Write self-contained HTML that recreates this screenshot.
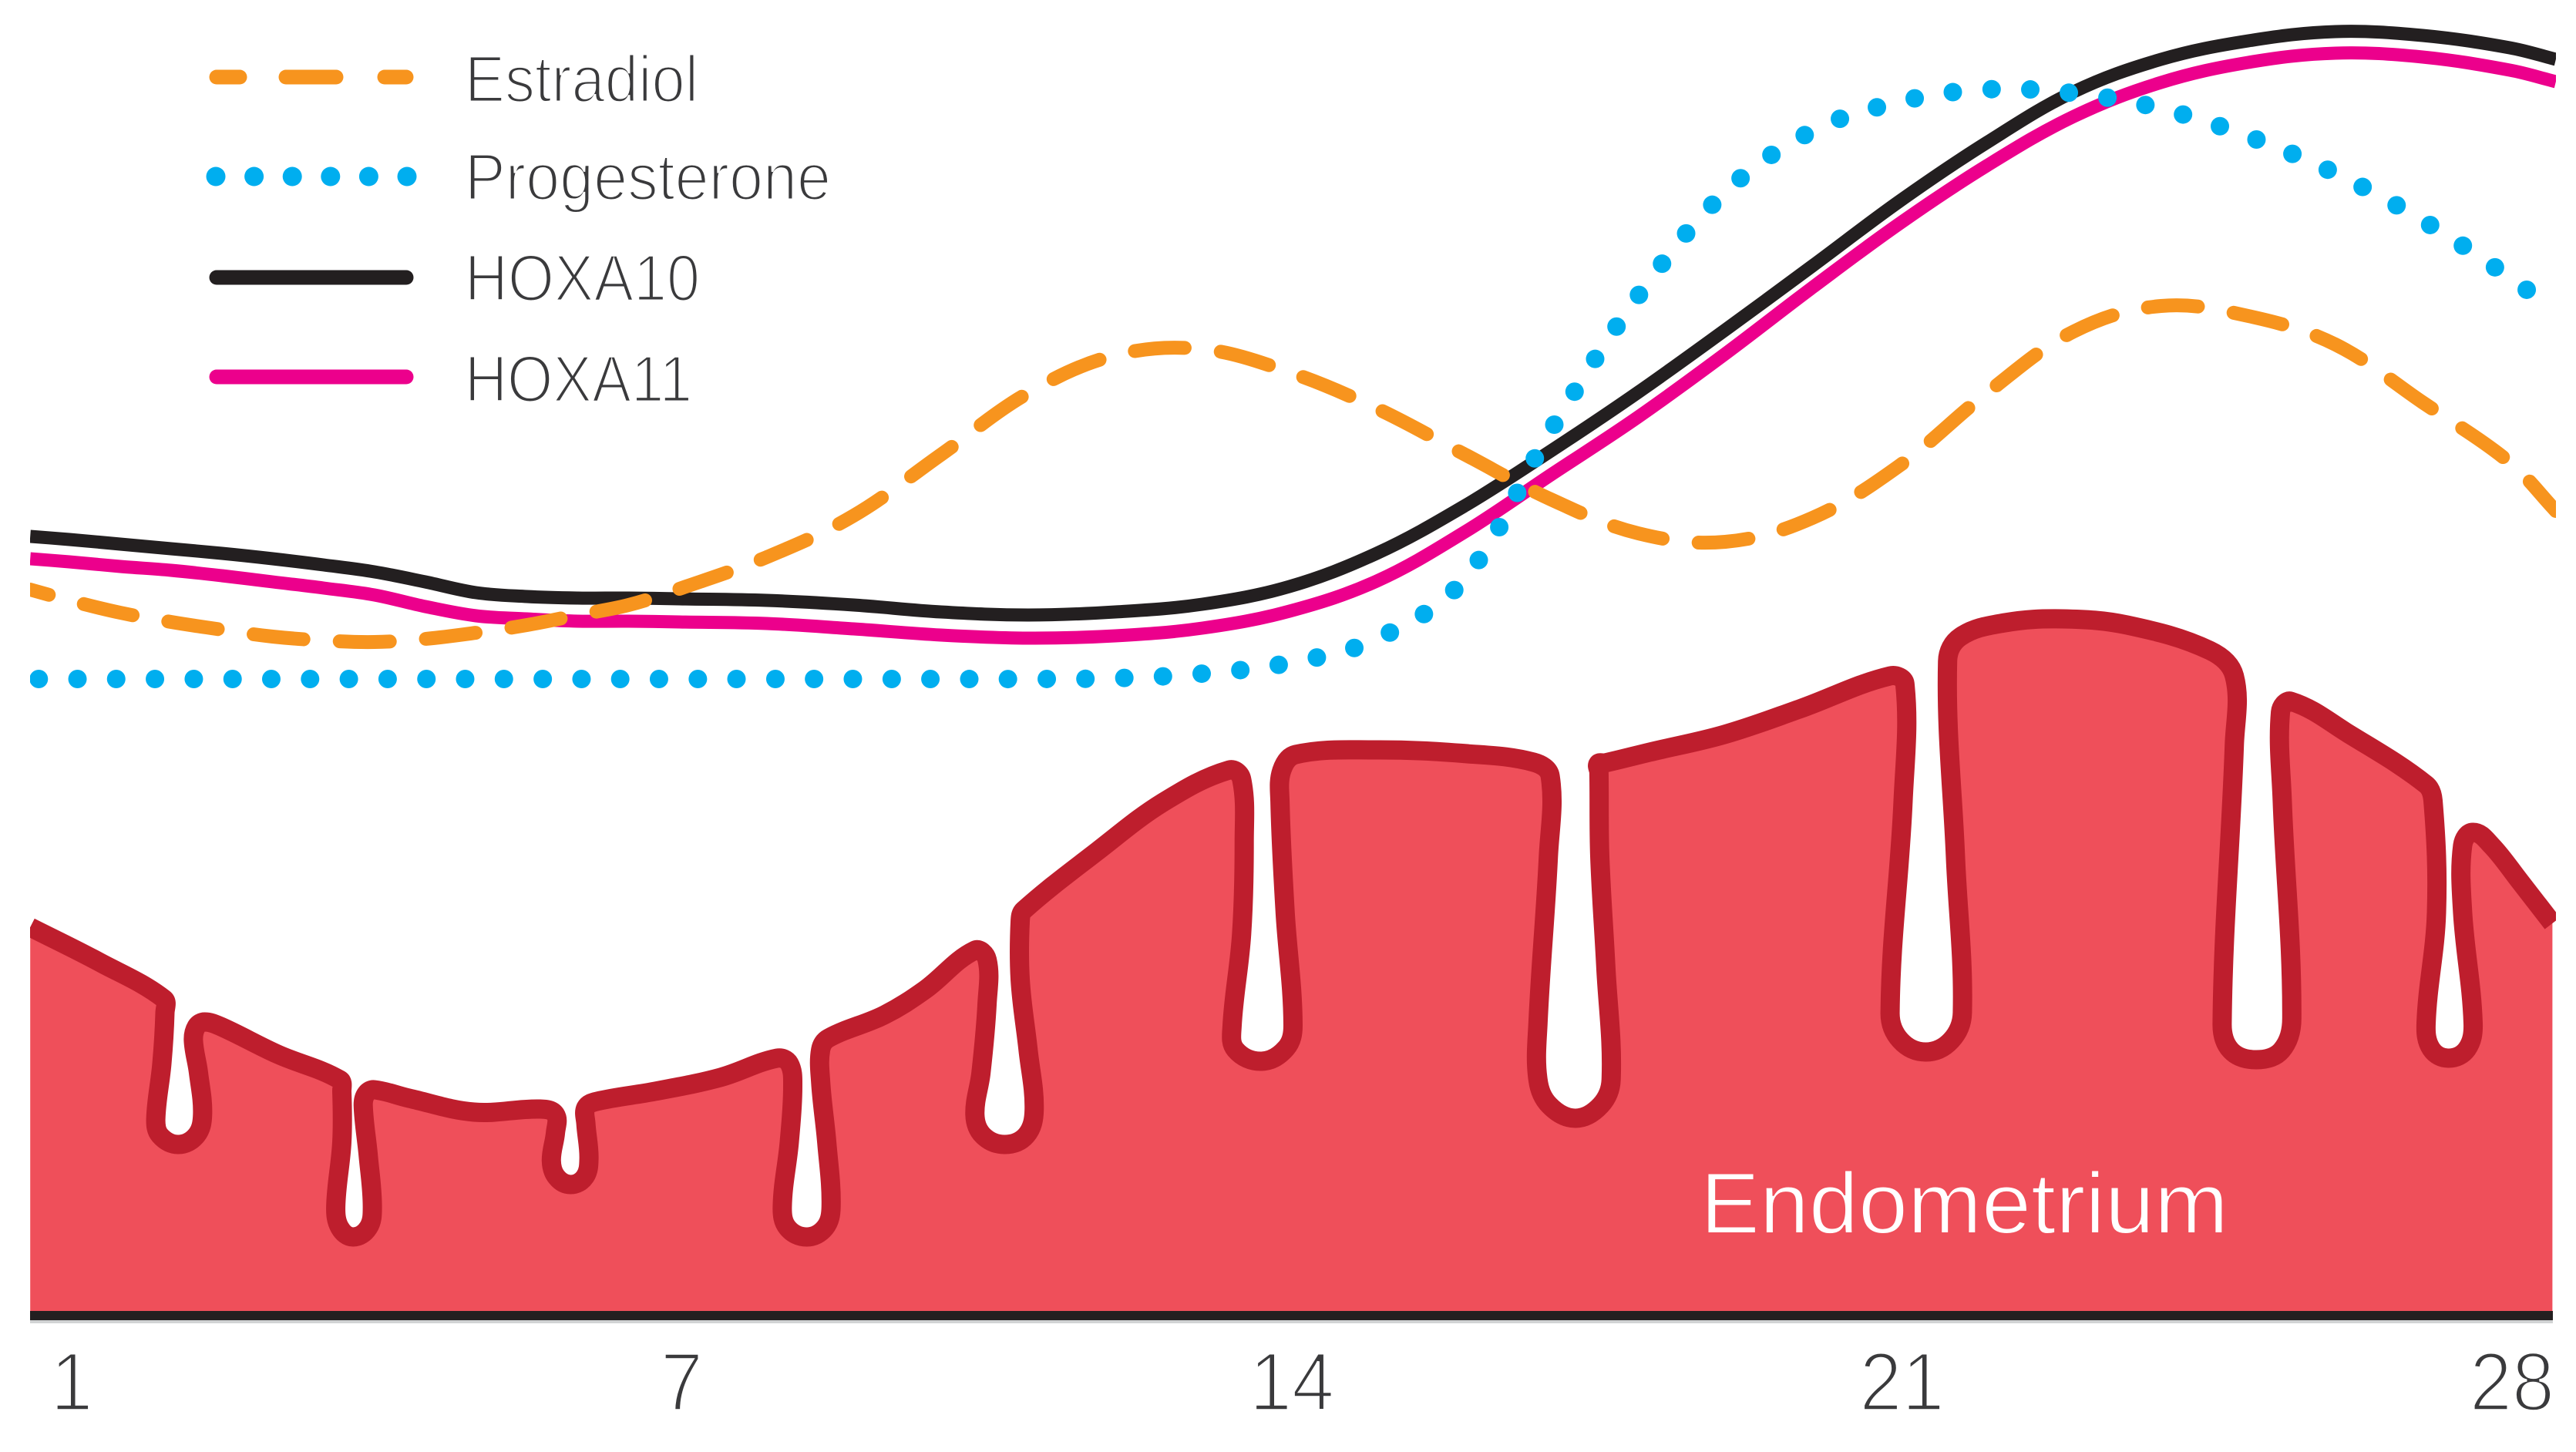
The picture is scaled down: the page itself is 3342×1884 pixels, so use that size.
<!DOCTYPE html>
<html lang="en">
<head>
<meta charset="utf-8">
<title>Menstrual cycle hormones, HOXA expression and endometrium</title>
<style>
  html, body { margin: 0; padding: 0; background: #ffffff; }
  svg { display: block; }
  text { font-family: "Liberation Sans", sans-serif; }
</style>
</head>
<body>
<svg id="chart" xmlns="http://www.w3.org/2000/svg" width="3342" height="1884" viewBox="0 0 3342 1884">
  <defs>
    <clipPath id="plot-clip"><rect x="39" y="0" width="3277" height="1701"></rect></clipPath>
    <clipPath id="dots-clip"><rect x="39" y="0" width="3258" height="1701"></rect></clipPath>
  </defs>
  <rect x="0" y="0" width="3342" height="1884" fill="#ffffff"></rect>
  <g id="endo-layer" clip-path="url(#plot-clip)"></g>
  <text x="2206" y="1600" font-size="112" fill="#ffffff" stroke="#ef4f5a" stroke-width="2" paint-order="fill stroke" textLength="685" lengthAdjust="spacingAndGlyphs">Endometrium</text>
  <g id="axis-layer"></g>
  <g id="line-layer"></g>
  <g>
    <g>
      <line x1="281" y1="100" x2="527" y2="100" stroke="#f7941e" stroke-width="19" stroke-linecap="round" stroke-dasharray="30 60 65 63 28"></line>
      <text x="603" y="132" font-size="85" fill="#3a3a3c" stroke="#ffffff" stroke-width="3" paint-order="fill stroke" textLength="303" lengthAdjust="spacingAndGlyphs">Estradiol</text>
    </g>
    <g>
      <line x1="280" y1="229" x2="530" y2="229" stroke="#00aeef" stroke-width="25" stroke-linecap="round" stroke-dasharray="0 49.6"></line>
      <text x="603" y="259" font-size="85" fill="#3a3a3c" stroke="#ffffff" stroke-width="3" paint-order="fill stroke" textLength="475" lengthAdjust="spacingAndGlyphs">Progesterone</text>
    </g>
    <g>
      <line x1="281" y1="360" x2="527" y2="360" stroke="#231f20" stroke-width="19" stroke-linecap="round"></line>
      <text x="603" y="390" font-size="85" fill="#3a3a3c" stroke="#ffffff" stroke-width="3" paint-order="fill stroke" textLength="305" lengthAdjust="spacingAndGlyphs">HOXA10</text>
    </g>
    <g>
      <line x1="281" y1="489" x2="527" y2="489" stroke="#ec008c" stroke-width="19" stroke-linecap="round"></line>
      <text x="603" y="521" font-size="85" fill="#3a3a3c" stroke="#ffffff" stroke-width="3" paint-order="fill stroke" textLength="295" lengthAdjust="spacingAndGlyphs">HOXA11</text>
    </g>
  </g>
</svg>
<script>
// ---- chart data (cycle day, relative level) ----
const tickDays = [1, 7, 14, 21, 28];
const days = [0.615, 1, 1.5, 2, 2.5, 3, 3.5, 4, 4.5, 5, 5.5, 6, 6.5, 7, 8, 9, 10, 11, 12, 13, 14, 15, 16, 17, 18, 19, 20, 21, 22, 23, 24, 25, 26, 27, 28, 28.53];
const hoxa10 = [101.1, 100.7, 100.1, 99.5, 98.9, 98.2, 97.4, 96.5, 95.2, 93.8, 93.3, 93.1, 93.1, 93.0, 92.8, 92.2, 91.3, 90.9, 91.3, 92.3, 94.6, 98.9, 105.0, 112.2, 119.8, 127.9, 136.2, 144.6, 152.2, 158.8, 163.0, 165.4, 166.6, 166.1, 164.5, 163.0];
const hoxa11 = [98.2, 97.8, 97.2, 96.7, 96.0, 95.2, 94.4, 93.5, 92.0, 90.8, 90.4, 90.1, 90.1, 90.0, 89.8, 89.1, 88.3, 87.9, 88.2, 89.2, 91.4, 95.3, 101.6, 109.1, 116.6, 124.8, 133.4, 141.7, 149.2, 155.6, 160.0, 162.6, 163.8, 163.3, 161.6, 160.1];
const estradiol = [94.2, 92.8, 91.2, 90.0, 89.0, 88.1, 87.6, 87.4, 87.8, 88.6, 89.6, 90.9, 92.2, 94.3, 98.4, 103.8, 111.7, 119.7, 124.6, 125.4, 122.4, 117.7, 111.8, 105.9, 101.5, 100.4, 103.5, 110.3, 119.7, 127.7, 131.0, 129.7, 126.0, 118.5, 110.7, 104.4];
const progesterone = [82.6, 82.6, 82.6, 82.6, 82.6, 82.6, 82.6, 82.6, 82.6, 82.6, 82.6, 82.6, 82.6, 82.6, 82.6, 82.6, 82.6, 82.6, 82.7, 83.3, 84.7, 87.8, 95.5, 114.9, 132.3, 145.8, 153.7, 157.5, 159.1, 158.6, 156.6, 153.0, 148.2, 142.1, 134.7, 130.2];
// Endometrial surface outline, including the gland crypts
const endoDays = [0.615, 1.29, 1.93, 1.94, 1.91, 1.85, 1.89, 2.07, 2.25, 2.31, 2.27, 2.22, 2.25, 2.33, 2.49, 3.05, 3.66, 3.68, 3.68, 3.62, 3.66, 3.79, 3.94, 3.98, 3.94, 3.89, 3.92, 4.00, 4.34, 4.98, 5.63, 5.78, 5.78, 5.74, 5.79, 5.93, 6.07, 6.11, 6.08, 6.08, 6.19, 6.76, 7.47, 8.12, 8.26, 8.30, 8.26, 8.18, 8.24, 8.46, 8.67, 8.74, 8.69, 8.62, 8.62, 8.71, 9.35, 9.82, 10.39, 10.53, 10.53, 10.46, 10.39, 10.48, 10.73, 10.98, 11.07, 11.00, 10.91, 10.91, 10.95, 11.80, 12.55, 13.31, 13.45, 13.48, 13.45, 13.34, 13.38, 13.68, 13.96, 14.04, 13.95, 13.89, 13.91, 14.07, 14.99, 16.04, 16.80, 16.99, 16.97, 16.85, 16.85, 16.98, 17.28, 17.57, 17.69, 17.63, 17.56, 17.55, 17.54, 17.62, 18.13, 18.99, 19.85, 20.89, 21.06, 21.04, 20.89, 21.01, 21.30, 21.59, 21.72, 21.64, 21.55, 21.70, 22.21, 22.87, 23.61, 24.56, 24.84, 24.84, 24.70, 24.80, 25.09, 25.38, 25.50, 25.39, 25.37, 25.49, 26.15, 27.04, 27.12, 27.16, 27.04, 27.10, 27.30, 27.51, 27.58, 27.46, 27.46, 27.58, 27.79, 28.12, 28.49];
const endoLevels = [50.4, 45.9, 41.1, 39.3, 32.7, 25.5, 23.4, 22.2, 23.4, 26.1, 31.5, 35.7, 37.5, 38.1, 37.5, 33.9, 30.6, 29.1, 22.5, 14.1, 11.4, 10.2, 11.4, 14.1, 20.7, 27.3, 28.8, 29.3, 28.2, 26.4, 26.8, 26.1, 23.7, 20.1, 18.0, 17.0, 18.0, 20.4, 24.9, 27.0, 27.8, 29.1, 30.9, 33.4, 32.7, 29.7, 22.5, 14.1, 11.4, 10.2, 11.4, 14.1, 22.5, 30.3, 34.5, 36.0, 39.0, 42.3, 47.4, 46.2, 40.5, 31.5, 26.1, 23.4, 22.2, 23.4, 26.7, 34.5, 43.5, 51.3, 52.6, 60.3, 66.6, 70.8, 69.6, 61.5, 49.5, 37.5, 34.5, 33.0, 34.7, 37.7, 52.3, 66.7, 70.7, 72.8, 73.4, 72.9, 71.8, 70.0, 59.6, 37.9, 30.6, 27.3, 25.6, 27.3, 30.6, 45.1, 59.6, 70.5, 71.6, 71.7, 73.1, 75.4, 78.7, 83.0, 82.0, 66.8, 39.3, 35.7, 34.2, 35.7, 39.3, 59.6, 84.9, 88.1, 89.9, 90.4, 89.6, 86.3, 83.0, 74.0, 37.9, 34.4, 33.2, 34.4, 38.6, 66.8, 78.3, 79.7, 75.5, 68.9, 66.8, 52.3, 37.9, 34.6, 33.4, 34.6, 37.9, 52.3, 61.0, 62.7, 61.0, 56.3, 50.9];

// ---- axis functions ----
function xScale(day) {
  // tick labels are evenly spaced on the printed axis, so days map piecewise between them
  const start = 90, step = 791.5;
  let i = 0;
  while (i < tickDays.length - 2 && day > tickDays[i + 1]) i++;
  return start + step * (i + (day - tickDays[i]) / (tickDays[i + 1] - tickDays[i]));
}
function yScale(level) {
  return 1707 - level * 10;
}

const NS = 'http://www.w3.org/2000/svg';
function make(tag, parent, attrs) {
  const el = document.createElementNS(NS, tag);
  for (const k in attrs) el.setAttribute(k, attrs[k]);
  parent.appendChild(el);
  return el;
}
function smoothPath(xs, ys) {
  const pts = xs.map((d, i) => [xScale(d), yScale(ys[i])]);
  let out = 'M' + pts[0][0].toFixed(1) + ' ' + pts[0][1].toFixed(1);
  const unit = (a, b) => {
    const dx = b[0] - a[0], dy = b[1] - a[1], n = Math.hypot(dx, dy) || 1;
    return [dx / n, dy / n];
  };
  for (let i = 0; i < pts.length - 1; i++) {
    const p0 = pts[Math.max(i - 1, 0)], p1 = pts[i], p2 = pts[i + 1], p3 = pts[Math.min(i + 2, pts.length - 1)];
    const len = Math.hypot(p2[0] - p1[0], p2[1] - p1[1]) * 0.36;
    const u1 = unit(p0, p2), u2 = unit(p1, p3);
    out += 'C' + (p1[0] + u1[0] * len).toFixed(1) + ' ' + (p1[1] + u1[1] * len).toFixed(1) + ' ' +
      (p2[0] - u2[0] * len).toFixed(1) + ' ' + (p2[1] - u2[1] * len).toFixed(1) + ' ' +
      p2[0].toFixed(1) + ' ' + p2[1].toFixed(1);
  }
  return out;
}

// ---- endometrium ----
const endoLayer = document.getElementById('endo-layer');
const outline = smoothPath(endoDays, endoLevels);
const lastX = xScale(endoDays[endoDays.length - 1]);
const firstX = xScale(endoDays[0]);
const endoFill = make('path', endoLayer, { d: outline + 'L' + lastX.toFixed(1) + ' 1701L' + firstX.toFixed(1) + ' 1701Z', fill: '#ef4f5a' });


const endoEdge = make('path', endoLayer, { d: outline, fill: 'none', stroke: '#be1e2d', 'stroke-width': 25, 'stroke-linejoin': 'round' });



// ---- x axis ----
const axisLayer = document.getElementById('axis-layer');
const axisShadow = make('rect', axisLayer, { x: 39, y: 1712, width: 3273, height: 5, fill: '#d1d3d4' });


const axisLine = make('rect', axisLayer, { x: 39, y: 1701, width: 3273, height: 12, fill: '#231f20' });


tickDays.forEach((day) => {
  const label = String(day);
  const t = make('text', axisLayer, {
    x: xScale(day) + 3, y: 1830, 'font-size': 108, fill: '#3a3a3c', 'text-anchor': 'middle',
    stroke: '#ffffff', 'stroke-width': 3.5, 'paint-order': 'fill stroke',
    textLength: label.length * 55, lengthAdjust: 'spacingAndGlyphs'
  });
  t.textContent = label;
  
  
});

// ---- series lines ----
const lineLayer = document.getElementById('line-layer');
const blackLine = make('path', lineLayer, { d: smoothPath(days, hoxa10), fill: 'none', stroke: '#231f20', 'stroke-width': 17, 'clip-path': 'url(#plot-clip)' });


const pinkLine = make('path', lineLayer, { d: smoothPath(days, hoxa11), fill: 'none', stroke: '#ec008c', 'stroke-width': 17, 'clip-path': 'url(#plot-clip)' });


const blueLine = make('path', lineLayer, { d: smoothPath(days, progesterone), fill: 'none', stroke: '#00aeef', 'stroke-width': 24, 'stroke-linecap': 'round', 'stroke-dasharray': '0 50.3', 'stroke-dashoffset': -11, 'clip-path': 'url(#dots-clip)' });


const orangeLine = make('path', lineLayer, { d: smoothPath(days, estradiol), fill: 'none', stroke: '#f7941e', 'stroke-width': 18, 'stroke-linecap': 'round', 'stroke-dasharray': '65 47', 'stroke-dashoffset': 40, 'clip-path': 'url(#plot-clip)' });


</script>
</body>
</html>
